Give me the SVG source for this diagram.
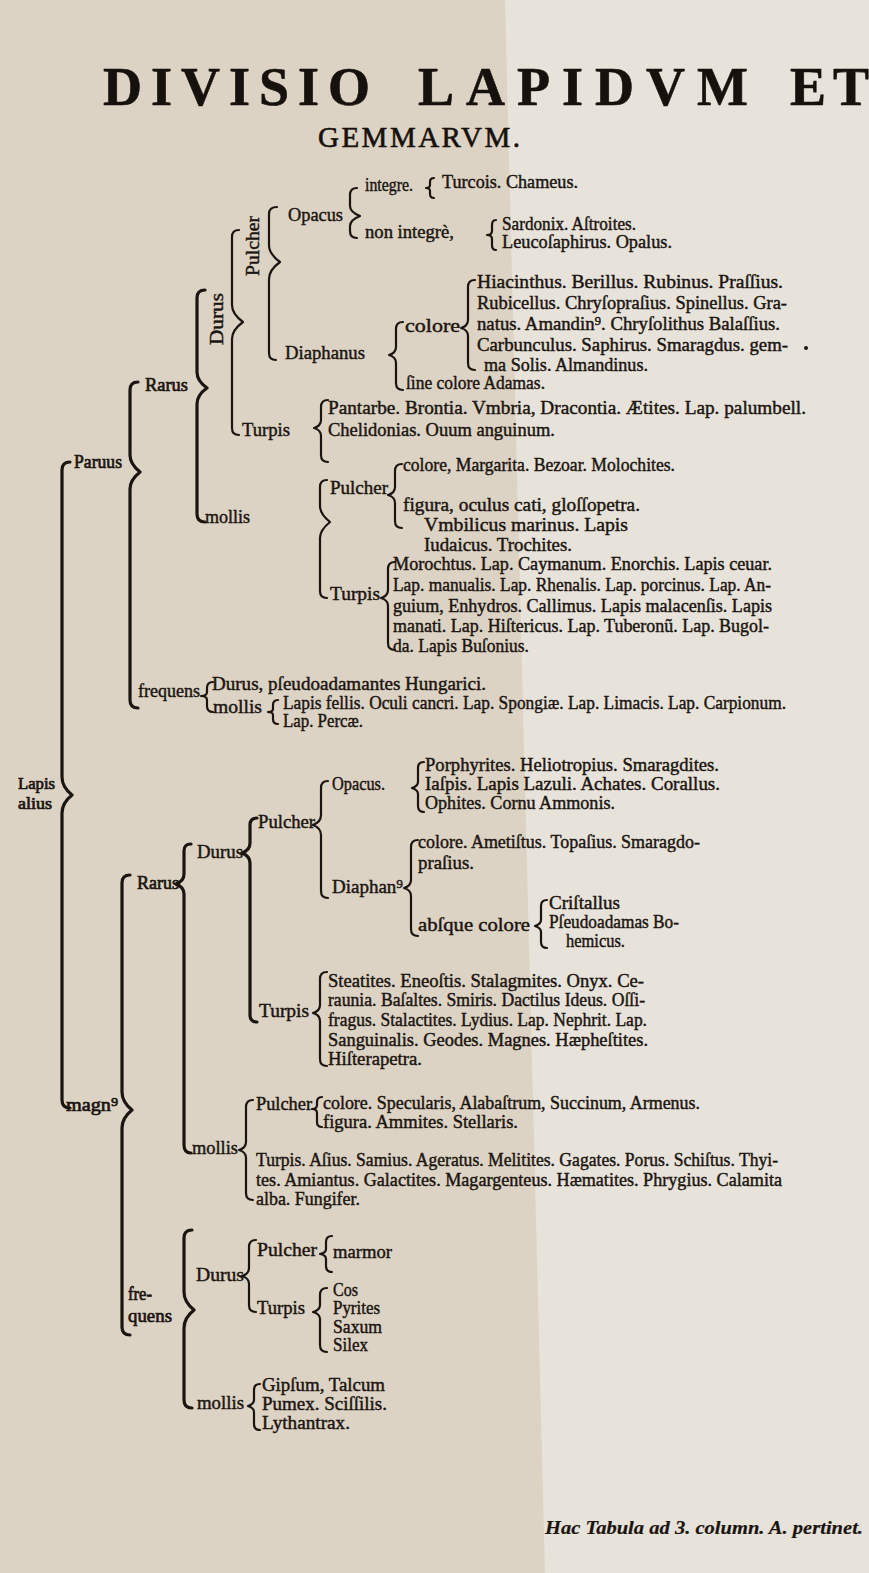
<svg xmlns="http://www.w3.org/2000/svg" width="869" height="1573" viewBox="0 0 869 1573">
<style>
.t{font-family:"Liberation Serif","Times New Roman",serif;font-size:19px;fill:#1b1511;stroke:#1b1511;stroke-width:0.45px}
.lb{stroke-width:0.7px}
.sm{font-size:16px}
.ti{font-family:"Liberation Serif","Times New Roman",serif;fill:#16110d;stroke:#16110d;stroke-width:0.6px}
.it{font-style:italic;font-weight:bold;stroke-width:0.2px}
.b{fill:none;stroke:#1b1511;stroke-width:2.2;stroke-linecap:round;stroke-linejoin:round}
.B{stroke-width:3.2}
</style>
<rect width="869" height="1573" fill="#ddd3c4"/>
<polygon points="505,0 869,0 869,1573 545,1573" fill="#e8e3da"/>

<g id="title">
<text class="ti" y="105" font-size="54" font-weight="bold"><tspan x="103" textLength="267" lengthAdjust="spacing">DIVISIO</tspan><tspan x="418" textLength="330" lengthAdjust="spacing">LAPIDVM</tspan><tspan x="790" textLength="79" lengthAdjust="spacing">ET</tspan></text>
<text class="ti" x="318" y="147" font-size="29" textLength="202" lengthAdjust="spacing">GEMMARVM.</text>
</g>

<g id="connectors">
<!-- upper section -->
<path class="b B" d="M70 462 Q62 462 62 470 V777 Q62 787 72 795 Q62 803 62 813 V1100 Q62 1108 70 1108"/>
<path class="b B" d="M138 382 Q130 382 130 390 V455 Q130 464 140 472 Q130 480 130 489 V700 Q130 708 138 708"/>
<path class="b B" d="M205 290 Q197 290 197 298 V372 Q197 381 207 388 Q197 395 197 404 V514 Q197 522 205 522"/>
<path class="b" d="M239 230 Q232 230 232 237 V305 Q232 314 243 322 Q232 330 232 339 V428 Q232 435 239 435"/>
<path class="b" d="M277 207 Q269 207 269 214 V245 Q269 254 280 262 Q269 270 269 279 V353 Q269 360 276 360"/>
<path class="b" d="M357 188 Q350 188 350 195 V206 Q350 212 360 216 Q350 220 350 226 V231 Q350 238 357 238"/>
<path class="b" d="M434 178 Q430 178 430 182 V185 Q430 188 426 188 Q430 188 430 191 V194 Q430 198 434 198"/>
<path class="b" d="M496 220 Q492 220 492 225 V231 Q492 235 487 235 Q492 235 492 239 V245 Q492 250 496 250"/>
<path class="b" d="M403 322 Q396 322 396 329 V347 Q396 353 389 355 Q396 357 396 363 V383 Q396 390 403 390"/>
<path class="b" d="M475 280 Q468 280 468 287 V320 Q468 326 461 328 Q468 330 468 336 V363 Q468 370 475 370"/>
<path class="b" d="M328 400 Q321 400 321 407 V420 Q321 426 314 428 Q321 430 321 436 V455 Q321 462 328 462"/>
<path class="b" d="M327 480 Q320 480 320 487 V506 Q320 514 330 522 Q320 530 320 538 V591 Q320 598 327 598"/>
<path class="b" d="M402 464 Q395 464 395 471 V487 Q395 493 388 495 Q395 497 395 503 V521 Q395 528 402 528"/>
<path class="b" d="M395 562 Q388 562 388 569 V590 Q388 596 381 598 Q388 600 388 606 V643 Q388 650 395 650"/>
<path class="b" d="M213 682 Q207 682 207 688 V692 Q207 696 201 696 Q207 696 207 700 V706 Q207 712 213 712"/>
<path class="b" d="M278 700 Q273 700 273 705 V709 Q273 712 268 712 Q273 712 273 715 V719 Q273 724 278 724"/>
<circle cx="806" cy="348" r="2" fill="#1b1511"/>
<!-- lower section -->
<path class="b B" d="M130 875 Q122 875 122 883 V1092 Q122 1102 132 1110 Q122 1118 122 1128 V1327 Q122 1335 130 1335"/>
<path class="b B" d="M191 844 Q184 844 184 851 V874 Q184 881 176 884 Q184 887 184 894 V1145 Q184 1153 191 1153"/>
<path class="b B" d="M257 818 Q250 818 250 825 V843 Q250 850 242 853 Q250 856 250 863 V1015 Q250 1022 257 1022"/>
<path class="b" d="M328 781 Q321 781 321 788 V815 Q321 822 313 825 Q321 828 321 835 V891 Q321 898 328 898"/>
<path class="b" d="M424 762 Q418 762 418 768 V782 Q418 786 412 788 Q418 790 418 794 V806 Q418 812 424 812"/>
<path class="b" d="M418 840 Q411 840 411 847 V880 Q411 886 404 888 Q411 890 411 896 V929 Q411 936 418 936"/>
<path class="b" d="M547 900 Q541 900 541 906 V920 Q541 924 535 926 Q541 928 541 932 V942 Q541 948 547 948"/>
<path class="b" d="M327 972 Q320 972 320 979 V1005 Q320 1011 313 1013 Q320 1015 320 1021 V1059 Q320 1066 327 1066"/>
<path class="b" d="M253 1100 Q246 1100 246 1107 V1142 Q246 1148 239 1150 Q246 1152 246 1158 V1193 Q246 1200 253 1200"/>
<path class="b" d="M322 1097 Q317 1097 317 1102 V1105 Q317 1109 312 1109 Q317 1109 317 1113 V1122 Q317 1127 322 1127"/>
<path class="b B" d="M192 1230 Q184 1230 184 1238 V1292 Q184 1302 194 1310 Q184 1318 184 1328 V1400 Q184 1408 192 1408"/>
<path class="b" d="M256 1240 Q249 1240 249 1247 V1268 Q249 1274 242 1276 Q249 1278 249 1284 V1305 Q249 1312 256 1312"/>
<path class="b" d="M332 1236 Q326 1236 326 1242 V1249 Q326 1253 320 1254 Q326 1255 326 1259 V1266 Q326 1272 332 1272"/>
<path class="b" d="M327 1288 Q320 1288 320 1295 V1305 Q320 1310 313 1312 Q320 1314 320 1319 V1345 Q320 1352 327 1352"/>
<path class="b" d="M260 1384 Q254 1384 254 1390 V1400 Q254 1404 248 1406 Q254 1408 254 1412 V1424 Q254 1430 260 1430"/>
</g>

<g id="lapis-alius"><text class="t lb sm" x="18" y="789" textLength="37" lengthAdjust="spacingAndGlyphs">Lapis</text><text class="t lb sm" x="18" y="809" textLength="34" lengthAdjust="spacingAndGlyphs">alius</text></g>

<g id="paruus"><text class="t lb" x="74" y="468" textLength="48" lengthAdjust="spacingAndGlyphs">Paruus</text></g>
<g id="paruus-rarus"><text class="t lb" x="145" y="391" textLength="43" lengthAdjust="spacingAndGlyphs">Rarus</text></g>
<g id="paruus-rarus-durus"><text class="t" transform="translate(223,345) rotate(-90)" textLength="52" lengthAdjust="spacingAndGlyphs">Durus</text></g>
<g id="paruus-rarus-durus-pulcher"><text class="t" transform="translate(259,276) rotate(-90)" textLength="60" lengthAdjust="spacingAndGlyphs">Pulcher</text></g>
<g id="p-r-d-p-opacus">
<text class="t" x="288" y="221" textLength="55" lengthAdjust="spacingAndGlyphs">Opacus</text>
<text class="t" x="365" y="191" textLength="48" lengthAdjust="spacingAndGlyphs">integre.</text>
<text class="t" x="442" y="188" textLength="136" lengthAdjust="spacingAndGlyphs">Turcois. Chameus.</text>
<text class="t" x="365" y="238" textLength="89" lengthAdjust="spacingAndGlyphs">non integrè,</text>
<text class="t" x="502" y="230" textLength="134" lengthAdjust="spacingAndGlyphs">Sardonix. Aſtroites.</text>
<text class="t" x="502" y="248" textLength="170" lengthAdjust="spacingAndGlyphs">Leucoſaphirus. Opalus.</text>
</g>
<g id="p-r-d-p-diaphanus">
<text class="t" x="285" y="359" textLength="80" lengthAdjust="spacingAndGlyphs">Diaphanus</text>
<text class="t" x="405" y="332" textLength="55" lengthAdjust="spacingAndGlyphs">colore</text>
<text class="t" x="477" y="288" textLength="306" lengthAdjust="spacingAndGlyphs">Hiacinthus. Berillus. Rubinus. Praſſius.</text>
<text class="t" x="477" y="309" textLength="310" lengthAdjust="spacingAndGlyphs">Rubicellus. Chryſopraſius. Spinellus. Gra-</text>
<text class="t" x="477" y="330" textLength="303" lengthAdjust="spacingAndGlyphs">natus. Amandin⁹. Chryſolithus Balaſſius.</text>
<text class="t" x="477" y="351" textLength="311" lengthAdjust="spacingAndGlyphs">Carbunculus. Saphirus. Smaragdus. gem-</text>
<text class="t" x="484" y="371" textLength="164" lengthAdjust="spacingAndGlyphs">ma Solis. Almandinus.</text>
<text class="t" x="406" y="389" textLength="139" lengthAdjust="spacingAndGlyphs">ſine colore Adamas.</text>
</g>
<g id="p-r-d-turpis">
<text class="t" x="242" y="436" textLength="48" lengthAdjust="spacingAndGlyphs">Turpis</text>
<text class="t" x="328" y="414" textLength="478" lengthAdjust="spacingAndGlyphs">Pantarbe. Brontia. Vmbria, Dracontia. Ætites. Lap. palumbell.</text>
<text class="t" x="328" y="436" textLength="227" lengthAdjust="spacingAndGlyphs">Chelidonias. Ouum anguinum.</text>
</g>
<g id="p-r-mollis"><text class="t" x="205" y="523" textLength="45" lengthAdjust="spacingAndGlyphs">mollis</text></g>
<g id="p-r-m-pulcher">
<text class="t" x="330" y="494" textLength="58" lengthAdjust="spacingAndGlyphs">Pulcher</text>
<text class="t" x="403" y="471" textLength="272" lengthAdjust="spacingAndGlyphs">colore, Margarita. Bezoar. Molochites.</text>
<text class="t" x="403" y="511" textLength="237" lengthAdjust="spacingAndGlyphs">figura, oculus cati, gloſſopetra.</text>
<text class="t" x="424" y="531" textLength="204" lengthAdjust="spacingAndGlyphs">Vmbilicus marinus. Lapis</text>
<text class="t" x="424" y="551" textLength="148" lengthAdjust="spacingAndGlyphs">Iudaicus. Trochites.</text>
</g>
<g id="p-r-m-turpis">
<text class="t" x="330" y="600" textLength="50" lengthAdjust="spacingAndGlyphs">Turpis</text>
<text class="t" x="393" y="570" textLength="379" lengthAdjust="spacingAndGlyphs">Morochtus. Lap. Caymanum. Enorchis. Lapis ceuar.</text>
<text class="t" x="393" y="591" textLength="378" lengthAdjust="spacingAndGlyphs">Lap. manualis. Lap. Rhenalis. Lap. porcinus. Lap. An-</text>
<text class="t" x="393" y="612" textLength="379" lengthAdjust="spacingAndGlyphs">guium, Enhydros. Callimus. Lapis malacenſis. Lapis</text>
<text class="t" x="393" y="632" textLength="376" lengthAdjust="spacingAndGlyphs">manati. Lap. Hiſtericus. Lap. Tuberonũ. Lap. Bugol-</text>
<text class="t" x="393" y="652" textLength="136" lengthAdjust="spacingAndGlyphs">da. Lapis Buſonius.</text>
</g>
<g id="paruus-frequens">
<text class="t" x="138" y="697" textLength="62" lengthAdjust="spacingAndGlyphs">frequens</text>
<text class="t" x="212" y="690" textLength="274" lengthAdjust="spacingAndGlyphs">Durus, pſeudoadamantes Hungarici.</text>
<text class="t" x="213" y="713" textLength="49" lengthAdjust="spacingAndGlyphs">mollis</text>
<text class="t" x="283" y="709" textLength="503" lengthAdjust="spacingAndGlyphs">Lapis fellis. Oculi cancri. Lap. Spongiæ. Lap. Limacis. Lap. Carpionum.</text>
<text class="t" x="283" y="727" textLength="80" lengthAdjust="spacingAndGlyphs">Lap. Percæ.</text>
</g>

<g id="magnus"><text class="t lb" x="66" y="1111" textLength="52" lengthAdjust="spacingAndGlyphs">magn⁹</text></g>
<g id="magnus-rarus"><text class="t lb" x="137" y="889" textLength="42" lengthAdjust="spacingAndGlyphs">Rarus</text></g>
<g id="m-r-durus"><text class="t" x="197" y="858" textLength="46" lengthAdjust="spacingAndGlyphs">Durus</text></g>
<g id="m-r-d-pulcher"><text class="t" x="258" y="828" textLength="57" lengthAdjust="spacingAndGlyphs">Pulcher</text></g>
<g id="m-r-d-p-opacus">
<text class="t" x="332" y="790" textLength="53" lengthAdjust="spacingAndGlyphs">Opacus.</text>
<text class="t" x="425" y="771" textLength="294" lengthAdjust="spacingAndGlyphs">Porphyrites. Heliotropius. Smaragdites.</text>
<text class="t" x="425" y="790" textLength="295" lengthAdjust="spacingAndGlyphs">Iaſpis. Lapis Lazuli. Achates. Corallus.</text>
<text class="t" x="425" y="809" textLength="190" lengthAdjust="spacingAndGlyphs">Ophites. Cornu Ammonis.</text>
</g>
<g id="m-r-d-p-diaphanus">
<text class="t" x="332" y="893" textLength="71" lengthAdjust="spacingAndGlyphs">Diaphan⁹</text>
<text class="t" x="418" y="848" textLength="282" lengthAdjust="spacingAndGlyphs">colore. Ametiſtus. Topaſius. Smaragdo-</text>
<text class="t" x="418" y="869" textLength="56" lengthAdjust="spacingAndGlyphs">praſius.</text>
<text class="t" x="418" y="931" textLength="112" lengthAdjust="spacingAndGlyphs">abſque colore</text>
<text class="t" x="549" y="909" textLength="71" lengthAdjust="spacingAndGlyphs">Criſtallus</text>
<text class="t" x="549" y="928" textLength="130" lengthAdjust="spacingAndGlyphs">Pſeudoadamas Bo-</text>
<text class="t" x="566" y="947" textLength="59" lengthAdjust="spacingAndGlyphs">hemicus.</text>
</g>
<g id="m-r-d-turpis">
<text class="t" x="259" y="1017" textLength="50" lengthAdjust="spacingAndGlyphs">Turpis</text>
<text class="t" x="328" y="987" textLength="316" lengthAdjust="spacingAndGlyphs">Steatites. Eneoſtis. Stalagmites. Onyx. Ce-</text>
<text class="t" x="328" y="1006" textLength="317" lengthAdjust="spacingAndGlyphs">raunia. Baſaltes. Smiris. Dactilus Ideus. Oſſi-</text>
<text class="t" x="328" y="1026" textLength="319" lengthAdjust="spacingAndGlyphs">fragus. Stalactites. Lydius. Lap. Nephrit. Lap.</text>
<text class="t" x="328" y="1046" textLength="320" lengthAdjust="spacingAndGlyphs">Sanguinalis. Geodes. Magnes. Hæpheſtites.</text>
<text class="t" x="328" y="1065" textLength="94" lengthAdjust="spacingAndGlyphs">Hiſterapetra.</text>
</g>
<g id="m-r-mollis">
<text class="t" x="192" y="1154" textLength="46" lengthAdjust="spacingAndGlyphs">mollis</text>
<text class="t" x="256" y="1110" textLength="56" lengthAdjust="spacingAndGlyphs">Pulcher</text>
<text class="t" x="323" y="1109" textLength="377" lengthAdjust="spacingAndGlyphs">colore. Specularis, Alabaſtrum, Succinum, Armenus.</text>
<text class="t" x="323" y="1128" textLength="195" lengthAdjust="spacingAndGlyphs">figura. Ammites. Stellaris.</text>
<text class="t" x="256" y="1166" textLength="522" lengthAdjust="spacingAndGlyphs">Turpis. Aſius. Samius. Ageratus. Melitites. Gagates. Porus. Schiſtus. Thyi-</text>
<text class="t" x="256" y="1186" textLength="526" lengthAdjust="spacingAndGlyphs">tes. Amiantus. Galactites. Magargenteus. Hæmatites. Phrygius. Calamita</text>
<text class="t" x="256" y="1205" textLength="104" lengthAdjust="spacingAndGlyphs">alba. Fungifer.</text>
</g>
<g id="magnus-frequens"><text class="t lb" x="128" y="1300" textLength="24" lengthAdjust="spacingAndGlyphs">fre-</text><text class="t lb" x="128" y="1322" textLength="44" lengthAdjust="spacingAndGlyphs">quens</text></g>
<g id="m-f-durus">
<text class="t" x="196" y="1281" textLength="48" lengthAdjust="spacingAndGlyphs">Durus</text>
<text class="t" x="257" y="1256" textLength="60" lengthAdjust="spacingAndGlyphs">Pulcher</text>
<text class="t" x="333" y="1258" textLength="59" lengthAdjust="spacingAndGlyphs">marmor</text>
<text class="t" x="257" y="1314" textLength="48" lengthAdjust="spacingAndGlyphs">Turpis</text>
<text class="t" x="333" y="1296" textLength="25" lengthAdjust="spacingAndGlyphs">Cos</text>
<text class="t" x="333" y="1314" textLength="47" lengthAdjust="spacingAndGlyphs">Pyrites</text>
<text class="t" x="333" y="1333" textLength="49" lengthAdjust="spacingAndGlyphs">Saxum</text>
<text class="t" x="333" y="1351" textLength="35" lengthAdjust="spacingAndGlyphs">Silex</text>
</g>
<g id="m-f-mollis">
<text class="t" x="197" y="1409" textLength="47" lengthAdjust="spacingAndGlyphs">mollis</text>
<text class="t" x="262" y="1391" textLength="123" lengthAdjust="spacingAndGlyphs">Gipſum, Talcum</text>
<text class="t" x="262" y="1410" textLength="125" lengthAdjust="spacingAndGlyphs">Pumex. Sciſſilis.</text>
<text class="t" x="262" y="1429" textLength="88" lengthAdjust="spacingAndGlyphs">Lythantrax.</text>
</g>

<g id="footer"><text class="t it" x="545" y="1534" textLength="318" lengthAdjust="spacingAndGlyphs">Hac Tabula ad 3. column. A. pertinet.</text></g>
</svg>
